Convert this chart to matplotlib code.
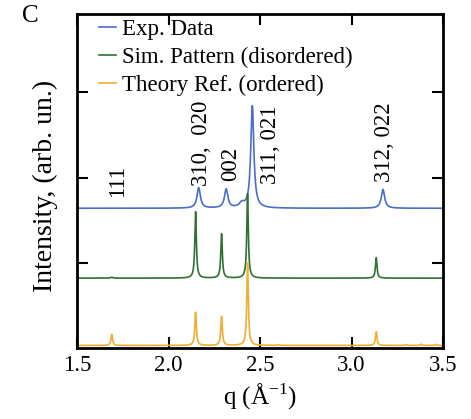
import numpy as np
import matplotlib
matplotlib.use("Agg")
import matplotlib.pyplot as plt

plt.rcParams['font.family'] = ['Liberation Serif', 'DejaVu Serif']
plt.rcParams['mathtext.fontset'] = 'custom'
plt.rcParams['mathtext.rm'] = 'Liberation Serif'

# Peak tables (position q, amplitude, half width) and baselines
exp_pos = [2.165, 2.315, 2.40, 2.458, 3.172]
exp_amp = [0.24, 0.22, 0.05, 1.20, 0.22]
exp_wid = [0.011, 0.011, 0.015, 0.010, 0.011]
exp_base = 1.64

sim_pos = [1.69, 2.148, 2.29, 2.432, 3.135]
sim_amp = [0.01, 0.78, 0.52, 0.99, 0.24]
sim_wid = [0.006, 0.005, 0.005, 0.005, 0.005]
sim_base = 0.82

th_pos = [1.69, 2.148, 2.29, 2.432, 2.60, 3.135, 3.30, 3.38, 3.46]
th_amp = [0.13, 0.39, 0.34, 0.97, 0.01, 0.16, 0.01, 0.015, 0.012]
th_wid = [0.005, 0.005, 0.005, 0.005, 0.005, 0.005, 0.005, 0.005, 0.005]
th_base = 0.03

labels = ["111", "310,  020", "002", "311, 021", "312, 022"]
label_q = [1.72, 2.183, 2.34, 2.555, 3.183]
label_y = [1.96, 2.40, 2.16, 2.38, 2.42]

q = np.linspace(1.5, 3.5, 4000)

def profile(pos, amp, wid, base):
    y = np.full_like(q, base)
    for p, a, w in zip(pos, amp, wid):
        y += a / (1 + ((q - p) / w) ** 2)
    return y

W, H = 471, 419
fig = plt.figure(figsize=(W/100, H/100), dpi=100)
ax = fig.add_axes([77/W, 1-348/H, (443-77)/W, (348-14)/H])

c_exp = '#4a6ccc'
c_sim = '#2e7130'
c_th = '#f0ae30'
ax.plot(q, profile(exp_pos, exp_amp, exp_wid, exp_base), color=c_exp, lw=1.2, label='Exp. Data')
ax.plot(q, profile(sim_pos, sim_amp, sim_wid, sim_base), color=c_sim, lw=1.2, label='Sim. Pattern (disordered)')
ax.plot(q, profile(th_pos, th_amp, th_wid, th_base), color=c_th, lw=1.2, label='Theory Ref. (ordered)')

for t, x, y in zip(labels, label_q, label_y):
    ax.text(x, y, t, rotation=90, ha='center', va='center', fontsize=16.5)

ax.set_xlim(1.5, 3.5)
ax.set_ylim(0, 3.92)
ax.set_xticks([1.5, 2.0, 2.5, 3.0, 3.5])
ax.set_xticklabels(['1.5', '2.0', '2.5', '3.0', '3.5'])
ax.set_yticks([1, 2, 3])
ax.set_yticklabels([])
ax.tick_params(direction='in', length=8, width=1.5, top=True, right=True, labelsize=16.5, pad=5)
for s in ax.spines.values():
    s.set_linewidth(2)

ax.set_xlabel('q (Å$^{\\mathrm{-1}}$)', fontsize=18, labelpad=4)
ax.set_ylabel('Intensity, (arb. un.)', fontsize=20)
ax.yaxis.set_label_coords((58-77)/(443-77), 0.485)

leg = ax.legend(loc='upper left', frameon=False, fontsize=16.5, handlelength=0.75,
                handletextpad=0.25, borderaxespad=0.0, labelspacing=0.3,
                bbox_to_anchor=(0.035, 1.013))

fig.text(30/W, 1-16/H, 'C', fontsize=18, ha='center', va='center')

fig.savefig('out.png', dpi=100)
